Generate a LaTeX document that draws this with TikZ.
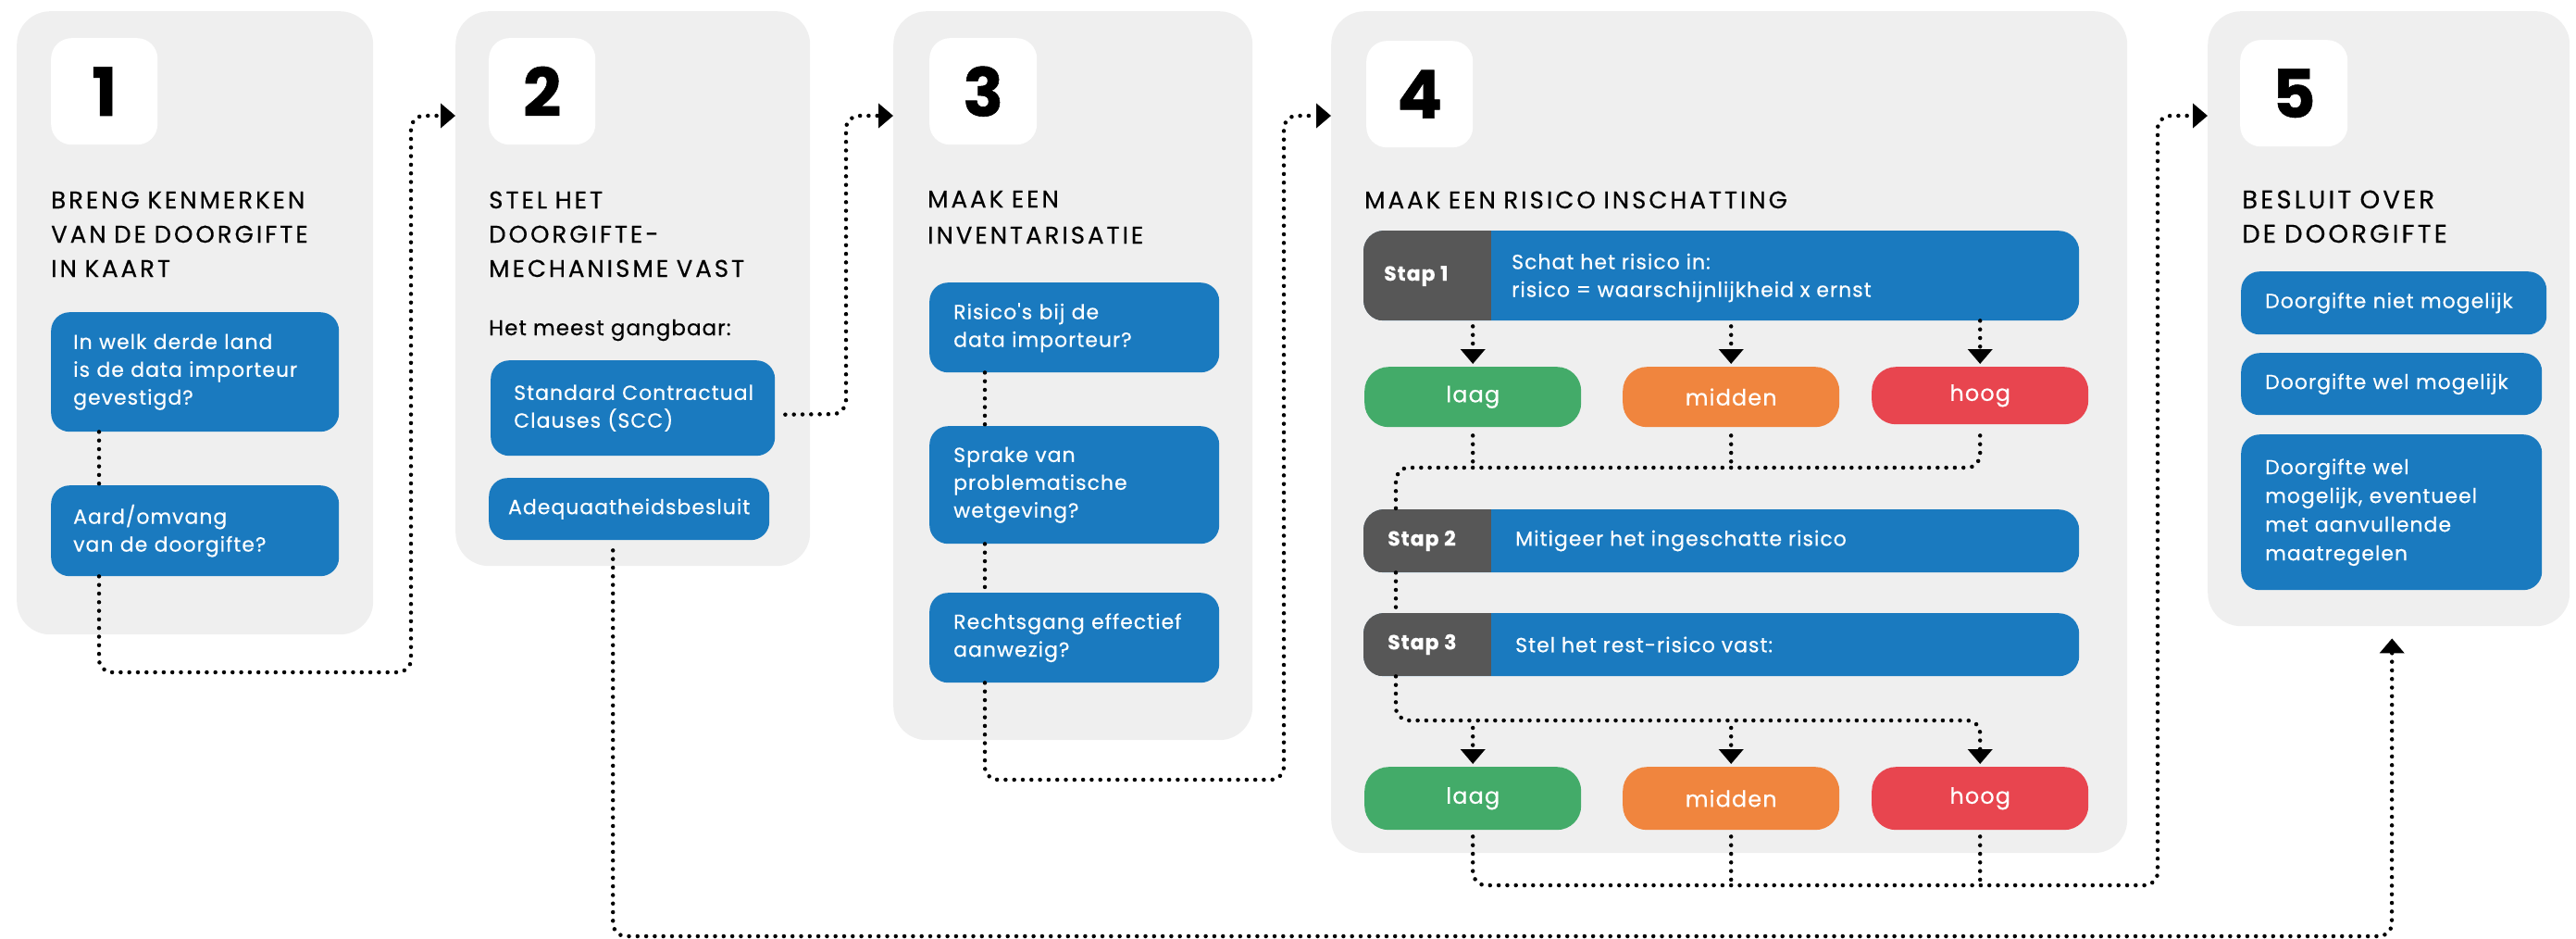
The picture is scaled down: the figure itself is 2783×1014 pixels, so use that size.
\documentclass[tikz,border=0pt]{standalone}
\usepackage{fontspec}
\setmainfont{Poppins}
\newfontfamily\fT[LetterSpace=11.5,FakeBold=0.4]{Poppins}
\newfontfamily\fX[LetterSpace=4.5,FakeBold=0.4]{Poppins}
\newfontfamily\fN[FakeBold=0.8]{Poppins}
\usetikzlibrary{arrows.meta,calc}
\definecolor{pbg}{HTML}{EFEFEF}
\definecolor{blu}{HTML}{1A7ABF}
\definecolor{dgray}{HTML}{575757}
\definecolor{grn}{HTML}{43AB69}
\definecolor{org}{HTML}{F0853E}
\definecolor{rd}{HTML}{E8454F}
\newcommand\oneline[1]{\mbox{#1}}
\begin{document}
\begin{tikzpicture}[x=1pt,y=-1pt,
  panel/.style={fill=pbg, rounded corners=36pt, anchor=north west, inner sep=0pt},
  numbox/.style={fill=white, rounded corners=22pt, anchor=north west, minimum width=115pt, minimum height=115pt, inner sep=0pt, font=\fN\bfseries\fontsize{72}{72}\selectfont},
  ttl/.style={anchor=base west, inner sep=0pt, align=left, text width=600pt, font=\fT\fontsize{26}{37}\selectfont},
  bbox/.style={fill=blu, rounded corners=20pt, anchor=north west, text=white, align=left, inner ysep=0pt, font=\fX\fontsize{22}{30}\selectfont},
  bar/.style={fill=blu, rounded corners=22pt, anchor=north west, minimum width=773pt, inner sep=0pt},
  bartxt/.style={anchor=west, inner sep=0pt, align=left, text=white, font=\fX\fontsize{22}{30}\selectfont},
  staplbl/.style={anchor=west, inner sep=0pt, text=white, font=\fX\bfseries\fontsize{22}{22}\selectfont},
  lvl/.style={rounded corners=26pt, anchor=north west, minimum width=234pt, minimum height=65pt, inner sep=0pt, text=white, font=\fX\fontsize{24}{24}\selectfont},
  conn/.style={line width=4.5pt, dash pattern=on 0pt off 9.3pt, line cap=round, rounded corners=14pt},
  arr/.style={conn, -{Triangle[length=16pt,width=26pt]}}
]
\useasboundingbox (0,0) rectangle (2783,1014);

% panels
\node[panel, minimum width=385pt, minimum height=673pt] (p1) at (18,12) {};
\node[panel, minimum width=383pt, minimum height=599pt] (p2) at (492,12) {};
\node[panel, minimum width=388pt, minimum height=787pt] (p3) at (965,12) {};
\node[panel, minimum width=860pt, minimum height=909pt] (p4) at (1438,12) {};
\node[panel, minimum width=391pt, minimum height=664pt] (p5) at (2385,12) {};

% number boxes
\node[numbox] (n1) at (55,41) {1};
\node[numbox] (n2) at (528,41) {2};
\node[numbox, minimum width=116pt] (n3) at (1004,41) {3};
\node[numbox] (n4) at (1476,44) {4};
\node[numbox, minimum width=116pt] (n5) at (2420,43) {5};

% titles
\node[ttl] (t1) at (55,225) {\oneline{BRENG KENMERKEN}\\\oneline{VAN DE DOORGIFTE}\\\oneline{IN KAART}};
\node[ttl] (t2) at (528,225) {\oneline{STEL HET}\\\oneline{DOORGIFTE-}\\\oneline{MECHANISME VAST}};
\node[ttl, font=\fT\fontsize{26}{39}\selectfont] (t3) at (1002,224) {\oneline{MAAK EEN}\\\oneline{INVENTARISATIE}};
\node[ttl] (t4) at (1474,225) {\oneline{MAAK EEN RISICO INSCHATTING}};
\node[ttl, font=\fT\fontsize{27.5}{37}\selectfont] (t5) at (2422,225) {\oneline{BESLUIT OVER}\\\oneline{DE DOORGIFTE}};

% panel 1
\node[bbox, minimum height=129pt, text width=263pt, inner xsep=24pt] (b1a) at (55,337)
  {\oneline{In welk derde land}\\\oneline{is de data importeur}\\\oneline{gevestigd?}};
\node[bbox, minimum height=98pt, text width=263pt, inner xsep=24pt] (b1b) at (55,524)
  {\oneline{Aard/omvang}\\\oneline{van de doorgifte?}};

% panel 2
\node[anchor=base west, inner sep=0pt, font=\fX\fontsize{23}{23}\selectfont] (hm) at (528,362) {Het meest gangbaar:};
\node[bbox, minimum height=103pt, text width=257pt, inner xsep=25pt] (scc) at (530,389)
  {\oneline{Standard Contractual}\\\oneline{Clauses (SCC)}};
\node[bbox, minimum height=67pt, minimum width=303pt, inner xsep=8pt, align=center] (adeq) at (528,516)
  {Adequaatheidsbesluit};

% panel 3
\node[bbox, minimum height=97pt, text width=261pt, inner xsep=26pt] (r1) at (1004,305)
  {\oneline{Risico's bij de}\\\oneline{data importeur?}};
\node[bbox, minimum height=127pt, text width=261pt, inner xsep=26pt] (r2) at (1004,460)
  {\oneline{Sprake van}\\\oneline{problematische}\\\oneline{wetgeving?}};
\node[bbox, minimum height=97pt, text width=261pt, inner xsep=26pt] (r3) at (1004,640)
  {\oneline{Rechtsgang effectief}\\\oneline{aanwezig?}};

% panel 4 bars
\node[bar, minimum height=97pt] (s1) at (1473,249) {};
\node[bar, minimum height=68pt] (s2) at (1473,550) {};
\node[bar, minimum height=68pt] (s3) at (1473,662) {};
\begin{scope}
  \clip[rounded corners=22pt] (s1.north west) rectangle (s1.south east);
  \fill[dgray] (s1.north west) rectangle ([xshift=138pt]s1.south west);
\end{scope}
\begin{scope}
  \clip[rounded corners=22pt] (s2.north west) rectangle (s2.south east);
  \fill[dgray] (s2.north west) rectangle ([xshift=138pt]s2.south west);
\end{scope}
\begin{scope}
  \clip[rounded corners=22pt] (s3.north west) rectangle (s3.south east);
  \fill[dgray] (s3.north west) rectangle ([xshift=138pt]s3.south west);
\end{scope}
\node[staplbl] (s1l) at (1495,298) {Stap 1};
\node[staplbl] (s2l) at (1499,584) {Stap 2};
\node[staplbl] (s3l) at (1499,696) {Stap 3};
\node[bartxt] (s1t) at (1633,300) {Schat het risico in:\\risico = waarschijnlijkheid x ernst};
\node[bartxt] (s2t) at (1637,584) {Mitigeer het ingeschatte risico};
\node[bartxt] (s3t) at (1637,696) {Stel het rest-risico vast:};

% levels
\node[lvl, fill=grn] (l1) at (1474,396) {laag};
\node[lvl, fill=org] (m1) at (1753,396) {midden};
\node[lvl, fill=rd, minimum height=62pt]  (h1) at (2022,396) {hoog};
\node[lvl, fill=grn, minimum height=68pt] (l2) at (1474,828) {laag};
\node[lvl, fill=org, minimum height=68pt] (m2) at (1753,828) {midden};
\node[lvl, fill=rd, minimum height=68pt]  (h2) at (2022,828) {hoog};

% panel 5
\node[bbox, minimum height=68pt, text width=278pt, inner xsep=26pt] (d1) at (2421,293)
  {\oneline{Doorgifte niet mogelijk}};
\node[bbox, minimum height=67pt, text width=273pt, inner xsep=26pt] (d2) at (2421,381)
  {\oneline{Doorgifte wel mogelijk}};
\node[bbox, minimum height=168pt, text width=273pt, inner xsep=26pt, font=\fX\fontsize{22}{31}\selectfont] (d3) at (2421,469)
  {\oneline{Doorgifte wel}\\\oneline{mogelijk, eventueel}\\\oneline{met aanvullende}\\\oneline{maatregelen}};

% connector coordinates
\coordinate (p2in) at ([yshift=-113pt]p2.north west);
\coordinate (p3in) at ([yshift=-113pt]p3.north west);
\coordinate (p4in) at ([yshift=-113pt]p4.north west);
\coordinate (p5in) at ([yshift=-113pt]p5.north west);
\coordinate (p5up) at ([xshift=3.5pt,yshift=-13pt]p5.south);
\coordinate (c1) at (444,726);
\coordinate (c2) at (914,447);
\coordinate (c3) at (1387,842);
\coordinate (bot) at (2584,1011);
\coordinate (j1) at (1508,505);
\coordinate (j2) at (1508,778);
\coordinate (j3) at (2331,956);

% panel 1 connectors
\draw[conn] ([xshift=52pt]b1a.south west) -- ([xshift=52pt]b1b.north west);
\draw[arr] ([xshift=52pt]b1b.south west) |- (c1) -- (c1 |- p2in) -- (p2in);
% panel 2 connectors
\draw[arr] ([xshift=11pt,yshift=-7pt]scc.east) -- (c2) -- (c2 |- p3in) -- (p3in);
\draw[arr] ([xshift=-17.5pt,yshift=-11pt]adeq.south) |- (bot) -- (p5up);
% panel 3 connectors
\draw[conn] ([xshift=60pt]r1.south west) -- ([xshift=60pt]r2.north west);
\draw[conn] ([xshift=60pt]r2.south west) -- ([xshift=60pt]r3.north west);
\draw[arr] ([xshift=60pt]r3.south west) |- (c3) -- (c3 |- p4in) -- (p4in);
% panel 4 connectors
\draw[arr] ($(s1.south -| l1.north)+(0,6)$) -- ([yshift=3pt]l1.north);
\draw[arr] ($(s1.south -| m1.north)+(0,6)$) -- ([yshift=3pt]m1.north);
\draw[arr] (s1.south -| h1.north) -- ([yshift=3pt]h1.north);
\draw[conn] ([yshift=-9pt]l1.south) -- (l1.south |- j1);
\draw[conn] ([yshift=-9pt]m1.south) -- (m1.south |- j1);
\draw[conn] ([yshift=-12pt]h1.south) -- (h1.south |- j1) -- (j1) -- (j1 |- s2.north);
\draw[conn] (s2.south -| j1) -- (s3.north -| j1);
\draw[arr] (s3.south -| j1) -- (j2) -- (h2.north |- j2) -- ([yshift=3pt]h2.north);
\draw[arr] ($(l2.north |- j2)+(0,8)$) -- ([yshift=3pt]l2.north);
\draw[arr] ($(m2.north |- j2)+(0,8)$) -- ([yshift=3pt]m2.north);
\draw[conn] ([yshift=-7pt]m2.south) -- (m2.south |- j3);
\draw[conn] ([yshift=-7pt]h2.south) -- (h2.south |- j3);
\draw[arr] ([yshift=-7pt]l2.south) -- (l2.south |- j3) -- (j3) -- (j3 |- p5in) -- (p5in);
\end{tikzpicture}
\end{document}
